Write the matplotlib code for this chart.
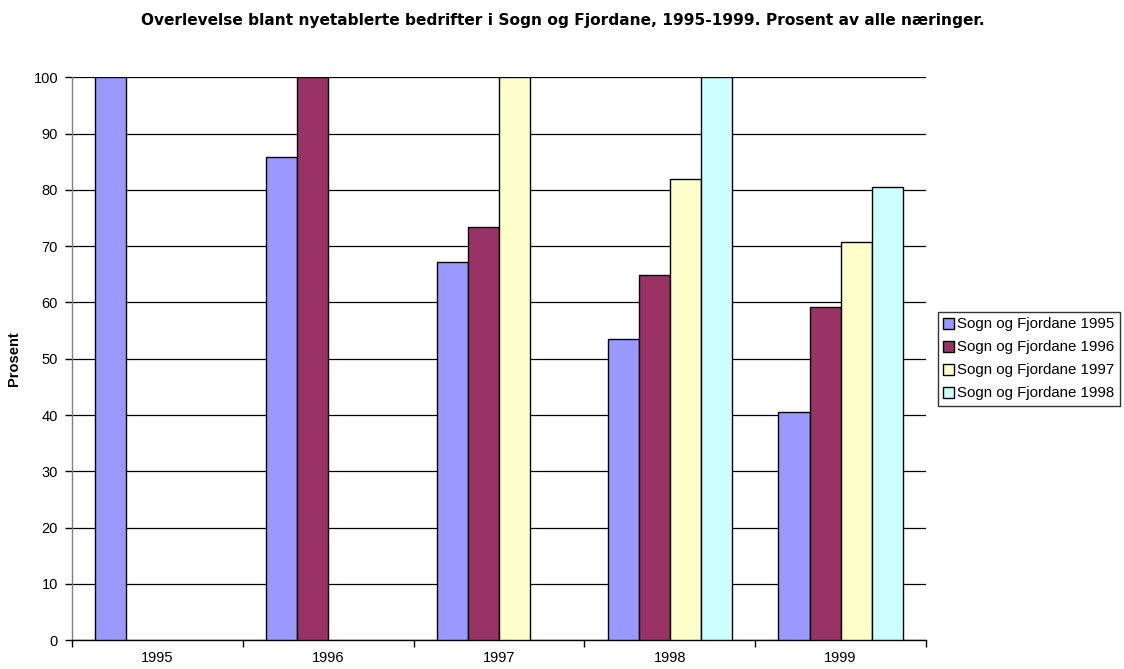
import matplotlib
matplotlib.use("Agg")
import matplotlib.pyplot as plt
import numpy as np

plt.rcParams['font.family'] = ['Liberation Sans', 'DejaVu Sans']

categories = ["1995", "1996", "1997", "1998", "1999"]
series_names = ["Sogn og Fjordane 1995", "Sogn og Fjordane 1996",
                "Sogn og Fjordane 1997", "Sogn og Fjordane 1998"]
s1995 = [100, 85.9, 67.2, 53.5, 40.6]
s1996 = [np.nan, 100, 73.4, 64.9, 59.2]
s1997 = [np.nan, np.nan, 100, 81.9, 70.7]
s1998 = [np.nan, np.nan, np.nan, 100, 80.6]
series = [s1995, s1996, s1997, s1998]
colors = ["#9999FF", "#993366", "#FFFFCC", "#CCFFFF"]
yticks = list(range(0, 101, 10))

fig = plt.figure(figsize=(11.24, 6.69), dpi=100)
ax = fig.add_axes([72/1124, 1-640.3/669, (926-72)/1124, (640.3-77.3)/669])

n = len(series)
w = 1/5.5
x = np.arange(len(categories))
for i, (vals, c, name) in enumerate(zip(series, colors, series_names)):
    offs = (i - (n-1)/2) * w
    ax.bar(x + offs, vals, width=w, color=c, edgecolor='black', linewidth=1.0,
           label=name, zorder=3)

ax.set_xlim(-0.5, len(categories)-0.5)
ax.set_ylim(0, 100)
ax.set_yticks(yticks)
ax.set_yticklabels([str(t) for t in yticks], fontsize=10.5)
ax.yaxis.grid(True, color='black', linewidth=0.9, zorder=0)
ax.set_axisbelow(True)

ax.set_xticks(x)
ax.set_xticklabels(categories, fontsize=10.5)
ax.tick_params(axis='x', which='major', length=0, pad=8)
ax.set_xticks(np.arange(-0.5, len(categories)), minor=True)
ax.tick_params(axis='x', which='minor', length=5, width=1, direction='out', color='black')
ax.tick_params(axis='y', length=5, width=1, direction='out', pad=5)

for s in ['top', 'right']:
    ax.spines[s].set_visible(False)
ax.spines['left'].set_color('#808080')
ax.spines['left'].set_linewidth(1)
ax.spines['bottom'].set_linewidth(1)

ax.set_ylabel("Prosent", fontsize=10.5, fontweight='bold', labelpad=9)

fig.text(0.5005, 1-20/669, "Overlevelse blant nyetablerte bedrifter i Sogn og Fjordane, 1995-1999. Prosent av alle næringer.",
         ha='center', va='center', fontsize=11.1, fontweight='bold', family='DejaVu Sans')

leg = fig.legend(loc='upper left', bbox_to_anchor=(937.7/1124, 1-312/669),
                 fontsize=10.8, frameon=True, fancybox=False, edgecolor='black',
                 handlelength=0.75, handleheight=0.75, handletextpad=0.2,
                 borderpad=0.35, labelspacing=0.6, borderaxespad=0)
leg.get_frame().set_linewidth(1)

fig.savefig("out.png", dpi=100)
